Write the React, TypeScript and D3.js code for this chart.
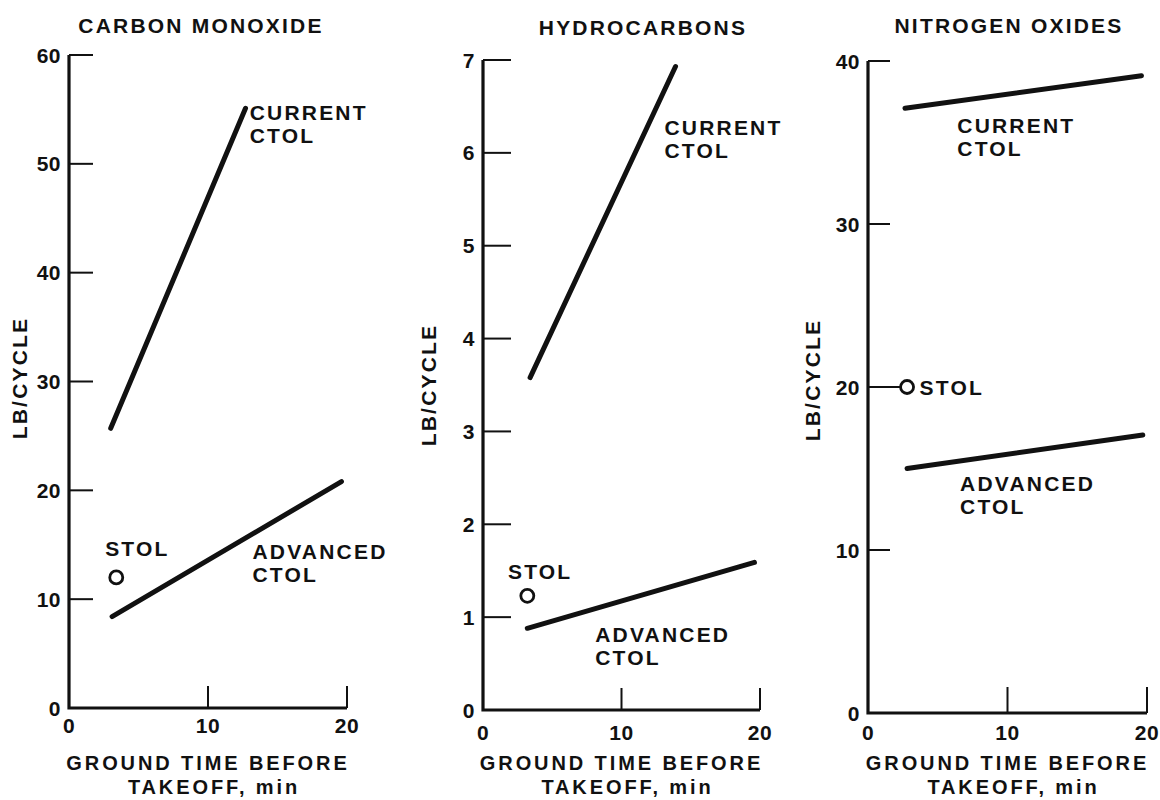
import React from "react";
import * as d3 from "d3";

// Ground time before takeoff (min) vs emissions (lb/cycle)
const coCurrent = [
  { t: 3.0, v: 25.7 },
  { t: 12.7, v: 55.1 },
];
const coAdvanced = [
  { t: 3.1, v: 8.4 },
  { t: 19.6, v: 20.8 },
];
const coStol = [{ t: 3.4, v: 12.0 }];

const hcCurrent = [
  { t: 3.4, v: 3.58 },
  { t: 13.9, v: 6.93 },
];
const hcAdvanced = [
  { t: 3.2, v: 0.88 },
  { t: 19.6, v: 1.59 },
];
const hcStol = [{ t: 3.2, v: 1.23 }];

const noxCurrent = [
  { t: 2.65, v: 37.1 },
  { t: 19.6, v: 39.1 },
];
const noxAdvanced = [
  { t: 2.8, v: 15.0 },
  { t: 19.7, v: 17.05 },
];
const noxStol = [{ t: 2.8, v: 20.0 }];

const xTicks = [0, 10, 20];
const coTicks = [0, 10, 20, 30, 40, 50, 60];
const hcTicks = [0, 1, 2, 3, 4, 5, 6, 7];
const noxTicks = [0, 10, 20, 30, 40];

const titles = ["CARBON MONOXIDE", "HYDROCARBONS", "NITROGEN OXIDES"];
const yLabel = "LB/CYCLE";
const xLabel = ["GROUND TIME BEFORE", "TAKEOFF, min"];

type Pt = { t: number; v: number };
type Note = { t: number; v: number; lines: string[] };

const FONT = "'Liberation Sans', Arial, sans-serif";
const FS = 21;
const LS = 2.2;

function Panel(props: {
  title: string;
  titleX: number;
  titleY: number;
  left: number;
  right: number;
  bottom: number;
  top: number;
  yMax: number;
  yTicks: number[];
  yTickLen: number;
  xTickLen: number;
  xTickLabelY: number;
  yLabelX: number;
  yLabelY: number;
  current: Pt[];
  advanced: Pt[];
  stol: Pt[];
  notes: Note[];
  stolTick?: boolean;
}) {
  const x = d3.scaleLinear().domain([0, 20]).range([props.left, props.right]);
  const y = d3.scaleLinear().domain([0, props.yMax]).range([props.bottom, props.top]);
  const line = d3
    .line<Pt>()
    .x(d => x(d.t))
    .y(d => y(d.v));
  const xMid = x(10);

  return (
    <g fontFamily={FONT} fontWeight="bold" fill="#111">
      <text x={props.titleX} y={props.titleY} textAnchor="middle" fontSize={FS} letterSpacing={LS}>
        {props.title}
      </text>

      {/* axes */}
      <path
        d={`M${x(0)},${y(props.yMax)}V${y(0)}H${x(20)}`}
        fill="none"
        stroke="#111"
        strokeWidth={3.2}
      />
      {props.yTicks.map(t => (
        <g key={"y" + t}>
          {t > 0 && (
            <line
              x1={x(0)}
              x2={x(0) + props.yTickLen}
              y1={y(t)}
              y2={y(t)}
              stroke="#111"
              strokeWidth={2}
            />
          )}
          <text x={x(0) - 8} y={y(t)} dy="0.36em" textAnchor="end" fontSize={FS} letterSpacing={0.5}>
            {t}
          </text>
        </g>
      ))}
      {xTicks.map(t => (
        <g key={"x" + t}>
          {t > 0 && (
            <line
              x1={x(t)}
              x2={x(t)}
              y1={y(0)}
              y2={y(0) - props.xTickLen}
              stroke="#111"
              strokeWidth={2}
            />
          )}
          <text x={x(t)} y={props.xTickLabelY} textAnchor="middle" fontSize={FS} letterSpacing={0.5}>
            {t}
          </text>
        </g>
      ))}

      <text
        transform={`translate(${props.yLabelX},${props.yLabelY}) rotate(-90)`}
        textAnchor="middle"
        fontSize={FS}
        letterSpacing={LS}
      >
        {yLabel}
      </text>
      <text x={xMid} y={770} textAnchor="middle" fontSize={20} letterSpacing={2.9}>
        {xLabel[0]}
      </text>
      <text x={xMid + 6} y={794} textAnchor="middle" fontSize={20} letterSpacing={2.9}>
        {xLabel[1]}
      </text>

      {/* series */}
      <path d={line(props.current) || ""} fill="none" stroke="#111" strokeWidth={5} strokeLinecap="round" />
      <path d={line(props.advanced) || ""} fill="none" stroke="#111" strokeWidth={5} strokeLinecap="round" />
      {props.stol.map((d, i) => (
        <g key={"s" + i}>
          {props.stolTick && (
            <line x1={x(0)} x2={x(d.t) - 7} y1={y(d.v)} y2={y(d.v)} stroke="#111" strokeWidth={2} />
          )}
          <circle cx={x(d.t)} cy={y(d.v)} r={6.5} fill="none" stroke="#111" strokeWidth={2.8} />
        </g>
      ))}

      {props.notes.map((n, i) => (
        <text key={"n" + i} x={x(n.t)} y={y(n.v)} fontSize={FS} letterSpacing={LS}>
          {n.lines.map((l, j) => (
            <tspan key={j} x={x(n.t)} dy={j === 0 ? 0 : 23}>
              {l}
            </tspan>
          ))}
        </text>
      ))}
    </g>
  );
}

export default function App() {
  return (
    <svg
      width={1160}
      height={800}
      style={{ position: "absolute", left: 0, top: 0, background: "#fff" }}
    >
      <rect width={1160} height={800} fill="#fff" />
      <Panel
        title={titles[0]}
        titleX={201}
        titleY={33}
        left={69}
        right={347}
        bottom={708}
        top={55}
        yMax={60}
        yTicks={coTicks}
        yTickLen={24}
        xTickLen={22}
        xTickLabelY={733}
        yLabelX={27}
        yLabelY={378}
        current={coCurrent}
        advanced={coAdvanced}
        stol={coStol}
        notes={[
          { t: 13.0, v: 54.0, lines: ["CURRENT", "CTOL"] },
          { t: 13.2, v: 13.7, lines: ["ADVANCED", "CTOL"] },
          { t: 2.6, v: 14.0, lines: ["STOL"] },
        ]}
      />
      <Panel
        title={titles[1]}
        titleX={643}
        titleY={35}
        left={483}
        right={760}
        bottom={710}
        top={60}
        yMax={7}
        yTicks={hcTicks}
        yTickLen={28}
        xTickLen={22}
        xTickLabelY={740}
        yLabelX={436}
        yLabelY={385}
        current={hcCurrent}
        advanced={hcAdvanced}
        stol={hcStol}
        notes={[
          { t: 13.1, v: 6.19, lines: ["CURRENT", "CTOL"] },
          { t: 8.1, v: 0.73, lines: ["ADVANCED", "CTOL"] },
          { t: 1.8, v: 1.41, lines: ["STOL"] },
        ]}
      />
      <Panel
        title={titles[2]}
        titleX={1009}
        titleY={33}
        left={868}
        right={1147}
        bottom={713}
        top={61}
        yMax={40}
        yTicks={noxTicks}
        yTickLen={22}
        xTickLen={26}
        xTickLabelY={740}
        yLabelX={820}
        yLabelY={380}
        current={noxCurrent}
        advanced={noxAdvanced}
        stol={noxStol}
        stolTick
        notes={[
          { t: 6.4, v: 35.6, lines: ["CURRENT", "CTOL"] },
          { t: 6.6, v: 13.6, lines: ["ADVANCED", "CTOL"] },
          { t: 3.7, v: 19.5, lines: ["STOL"] },
        ]}
      />
    </svg>
  );
}
